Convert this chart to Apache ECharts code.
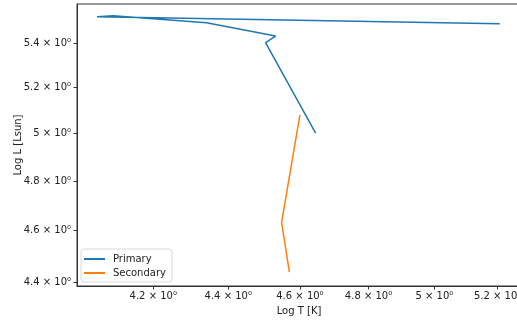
<!DOCTYPE html>
<html>
<head>
<meta charset="utf-8">
<script src="https://cdn.jsdelivr.net/npm/echarts@6/dist/echarts.min.js"></script>
<style>
  html, body { margin: 0; padding: 0; background: #fff; }
  #chart { width: 517px; height: 324px; }
</style>
</head>
<body>
<div id="chart"></div>
<script>
// primary track (Log T, Log L)
const primaryT = [4.645, 4.503, 4.531, 4.341, 4.097, 4.056, 5.207]
const primaryL = [5.000, 5.403, 5.434, 5.496, 5.529, 5.524, 5.491]
// secondary track
const secondaryT = [4.570, 4.548, 4.600]
const secondaryL = [4.439, 4.633, 5.079]
// tick values
const xTicks = [4.2, 4.4, 4.6, 4.8, 5.0, 5.2]
const yTicks = [4.4, 4.6, 4.8, 5.0, 5.2, 5.4]

const fmt = v => +(+v).toFixed(1) + ' × 10⁰'
const pairs = (a, b) => a.map((v, i) => [v, b[i]])
const font = 'DejaVu Sans'

const option = {
  backgroundColor: '#fff',
  animation: false,
  grid: {
    left: 77,
    top: 4,
    right: -4,
    bottom: 38,
    containLabel: false,
    outerBoundsMode: 'none',
    show: true,
    borderColor: '#333',
    borderWidth: 1,
  },
  // 图例
  legend: {
    orient: 'vertical',
    left: 81,
    top: 249,
    padding: [5, 6, 4, 3],
    itemGap: 4,
    itemWidth: 21,
    itemHeight: 2,
    icon: 'rect',
    borderColor: '#d9d9d9',
    borderWidth: 1,
    borderRadius: 3,
    textStyle: { fontFamily: font, fontSize: 10, color: '#222', padding: [0, 0, 0, 3] },
    data: ['Primary', 'Secondary'],
  },
  xAxis: {
    type: 'log',
    logBase: 10,
    min: 4.006,
    max: 5.276,
    name: 'Log T [K]',
    nameLocation: 'middle',
    nameGap: 20,
    nameMoveOverlap: false,
    nameTextStyle: { fontFamily: font, fontSize: 10, color: '#222' },
    axisLine: { lineStyle: { color: '#333', width: 1 } },
    axisTick: { show: true, length: 3.5, customValues: xTicks, lineStyle: { color: '#333' } },
    axisLabel: {
      customValues: xTicks,
      formatter: fmt,
      margin: 5,
      fontFamily: font,
      fontSize: 10,
      color: '#222',
    },
    splitLine: { show: false },
    minorTick: { show: false },
  },
  yAxis: {
    type: 'log',
    logBase: 10,
    min: 4.387,
    max: 5.585,
    name: 'Log L [Lsun]',
    nameLocation: 'middle',
    nameGap: 54,
    nameMoveOverlap: false,
    nameTextStyle: { fontFamily: font, fontSize: 10, color: '#222' },
    axisLine: { show: true, lineStyle: { color: '#333', width: 1 } },
    axisTick: { show: true, length: 3.5, customValues: yTicks, lineStyle: { color: '#333' } },
    axisLabel: {
      customValues: yTicks,
      formatter: fmt,
      margin: 6,
      fontFamily: font,
      fontSize: 10,
      color: '#222',
    },
    splitLine: { show: false },
    minorTick: { show: false },
  },
  series: [
    {
      name: 'Primary',
      type: 'line',
      symbol: 'none',
      lineStyle: { color: '#1f77b4', width: 1.5 },
      itemStyle: { color: '#1f77b4' },
      data: pairs(primaryT, primaryL),
    },
    {
      name: 'Secondary',
      type: 'line',
      symbol: 'none',
      lineStyle: { color: '#ff7f0e', width: 1.5 },
      itemStyle: { color: '#ff7f0e' },
      data: pairs(secondaryT, secondaryL),
    },
  ],
}
echarts.init(document.getElementById('chart')).setOption(option)
</script>
</body>
</html>
